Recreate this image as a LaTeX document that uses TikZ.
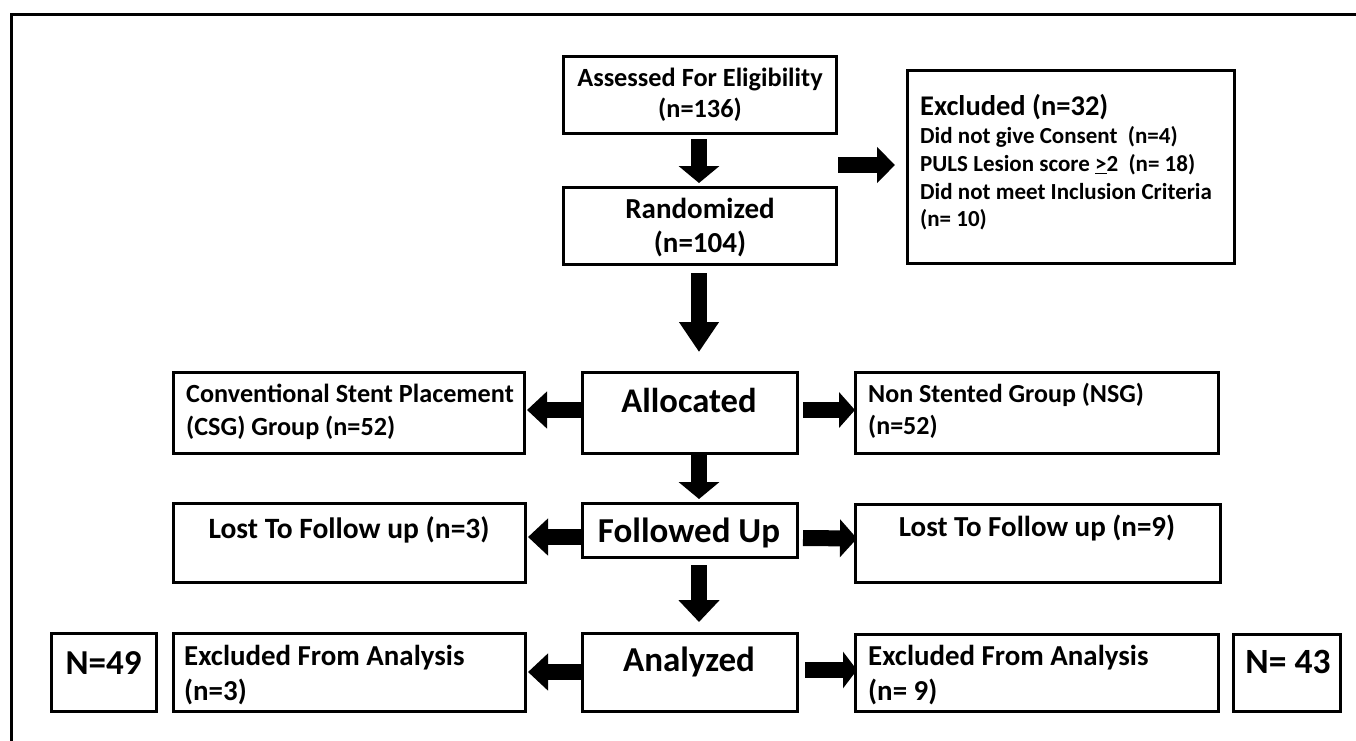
\documentclass[tikz,border=0pt]{standalone}
\usepackage{fontspec}
\setmainfont{Carlito}
\usetikzlibrary{arrows.meta,calc}
\tikzset{
  box/.style={draw=black, line width=3pt, inner sep=0pt, outer sep=0pt, rectangle, anchor=north west},
  blk/.style n args={2}{line width=16pt, -{Triangle[length=#1pt,width=#2pt]}},
  txt/.style n args={2}{font=\fontsize{#1}{#2}\selectfont\bfseries, inner sep=0pt},
}
\begin{document}
\begin{tikzpicture}[x=1pt,y=-1pt]
\useasboundingbox (0,0) rectangle (1356,740);
\draw[line width=3pt] (11,742) -- (11,14) -- (1358,14);

% boxes
\node[box, minimum width=273pt, minimum height=77pt] (assess) at (563,56) {};
\node[box, minimum width=273pt, minimum height=77pt] (rand) at (563,187) {};
\node[box, minimum width=327pt, minimum height=193pt] (excl) at (907,70) {};
\node[box, minimum width=351pt, minimum height=81pt] (conv) at (173,372) {};
\node[box, minimum width=215pt, minimum height=81pt] (alloc) at (582,372) {};
\node[box, minimum width=363pt, minimum height=81pt] (nsg) at (855,372) {};
\node[box, minimum width=352pt, minimum height=79pt] (lostL) at (173,503) {};
\node[box, minimum width=215pt, minimum height=54pt] (fol) at (582,503) {};
\node[box, minimum width=365pt, minimum height=78pt] (lostR) at (855,504) {};
\node[box, minimum width=352pt, minimum height=78pt] (exAL) at (173,633) {};
\node[box, minimum width=215pt, minimum height=78pt] (ana) at (582,633) {};
\node[box, minimum width=363pt, minimum height=77pt] (exAR) at (855,634) {};
\node[box, minimum width=105pt, minimum height=78pt] (n49) at (51,633) {};
\node[box, minimum width=107pt, minimum height=77pt] (n43) at (1233,634) {};

% texts
\node[txt={26.3}{31}, align=center] (assessT) at (700,94.5) {Assessed For Eligibility\\(n=136)};
\node[txt={29}{34}, align=center] (randT) at (700,227.5) {Randomized\\(n=104)};
\node[txt={28.5}{32}, anchor=west] (exclT) at (920,107) {Excluded (n=32)};
\node[txt={23}{27.7}, anchor=west, align=left] (exclL) at (920,178.5) {Did not give Consent~~(n=4)\\PULS Lesion score \underline{>}2~~(n= 18)\\Did not meet Inclusion Criteria\\(n= 10)};
\node[txt={26.2}{33}, anchor=west, align=left] (convT) at (186,411.5) {Conventional Stent Placement\\(CSG) Group (n=52)};
\node[txt={34.6}{40}] (allocT) at (689,400) {Allocated};
\node[txt={26}{32}, anchor=west, align=left] (nsgT) at (868,411) {Non Stented Group (NSG)\\(n=52)};
\node[txt={29.5}{34}] (lostLT) at (349,530) {Lost To Follow up (n=3)};
\node[txt={35}{40}] (folT) at (689,533) {Followed Up};
\node[txt={29}{34}] (lostRT) at (1037,528) {Lost To Follow up (n=9)};
\node[txt={28.9}{35}, anchor=west, align=left] (exALT) at (184,675.5) {Excluded From Analysis\\(n=3)};
\node[txt={35}{40}] (anaT) at (689,662) {Analyzed};
\node[txt={28.9}{35}, anchor=west, align=left] (exART) at (868,675.5) {Excluded From Analysis\\(n= 9)};
\node[txt={35}{40}] (n49T) at (103.5,663) {N=49};
\node[txt={35.5}{40}] (n43T) at (1288,662) {N= 43};

% arrows
\coordinate (ax) at (699,0);
\coordinate (ra) at (838,165);
\draw[blk={17}{40}, shorten <=6pt, shorten >=4pt] (assess.south -| ax) -- (rand.north -| ax);
\draw[blk={18}{35}, shorten >=12pt] (ra) -- (ra -| excl.west);
\draw[blk={30}{38}, shorten <=9pt, shorten >=20pt] (rand.south -| ax) -- (alloc.north -| ax);
\draw[blk={20}{36}, shorten >=3pt] ($(alloc.west)+(0,-2.5)$) -- ($(conv.east)+(0,-2.5)$);
\draw[blk={16}{35}] ($(alloc.east)+(6,-2.5)$) -- ($(nsg.west)+(0,-2.5)$);
\draw[blk={17}{40}, shorten <=2pt, shorten >=4pt] (alloc.south -| ax) -- (fol.north -| ax);
\draw[blk={20}{36}, shorten >=3pt] ($(fol.west)+(0,7)$) -- ($(lostL.east)+(0,-5.5)$);
\draw[blk={17}{37}] ($(fol.east)+(6,8)$) -- ($(lostR.west)+(2,-4.5)$);
\draw[blk={22}{40}, shorten <=8pt, shorten >=11pt] (fol.south -| ax) -- (ana.north -| ax);
\draw[blk={20}{36}, shorten >=3pt] (ana.west) -- (exAL.east);
\draw[blk={14}{36}] ($(ana.east)+(8,-2)$) -- ($(exAR.west)+(2,-2.5)$);
\end{tikzpicture}
\end{document}
